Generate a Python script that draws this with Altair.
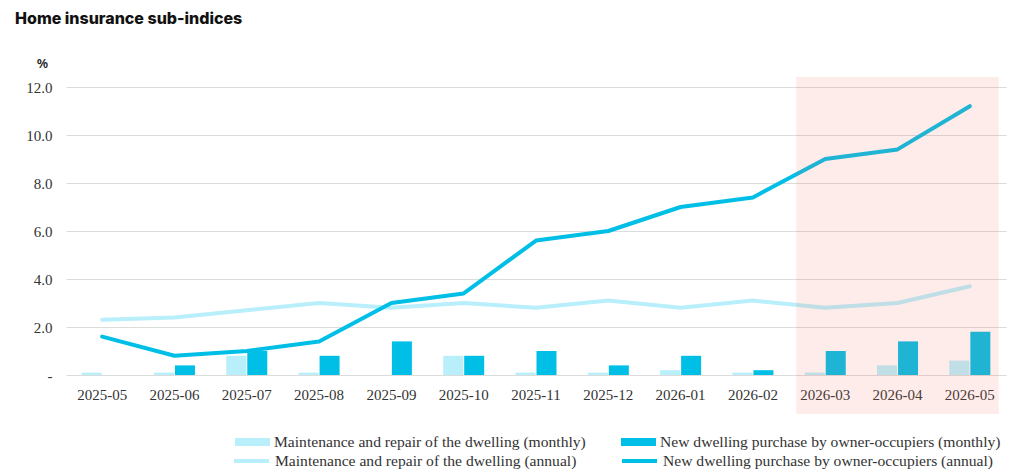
import altair as alt
import pandas as pd

months = ["2025-05", "2025-06", "2025-07", "2025-08", "2025-09", "2025-10", "2025-11",
          "2025-12", "2026-01", "2026-02", "2026-03", "2026-04", "2026-05"]
maint_monthly = [0.1, 0.1, 0.8, 0.1, 0.0, 0.8, 0.1, 0.1, 0.2, 0.1, 0.1, 0.4, 0.6]
new_monthly = [0.0, 0.4, 1.0, 0.8, 1.4, 0.8, 1.0, 0.4, 0.8, 0.2, 1.0, 1.4, 1.8]
maint_annual = [2.3, 2.4, 2.7, 3.0, 2.8, 3.0, 2.8, 3.1, 2.8, 3.1, 2.8, 3.0, 3.7]
new_annual = [1.6, 0.8, 1.0, 1.4, 3.0, 3.4, 5.6, 6.0, 7.0, 7.4, 9.0, 9.4, 11.2]
highlight_start = "2026-03"
highlight_end = "2026-05"
y_ticks = [0, 2, 4, 6, 8, 10, 12]

S_MM = "Maintenance and repair of the dwelling (monthly)"
S_NM = "New dwelling purchase by owner-occupiers (monthly)"
S_MA = "Maintenance and repair of the dwelling (annual)"
S_NA = "New dwelling purchase by owner-occupiers (annual)"

LIGHT = "#b8effb"
DARK = "#00bfe6"
SERIF = "Liberation Serif"

bars_df = pd.DataFrame({
    "month": months * 2,
    "series": [S_MM] * len(months) + [S_NM] * len(months),
    "value": maint_monthly + new_monthly,
})
lines_df = pd.DataFrame({
    "month": months * 2,
    "series": [S_MA] * len(months) + [S_NA] * len(months),
    "value": maint_annual + new_annual,
})
hl_df = pd.DataFrame({"start": [highlight_start], "end": [highlight_end]})

x_scale = alt.Scale(domain=months, paddingInner=0, paddingOuter=0)
y_scale = alt.Scale(domain=[0, 12])

x_enc = alt.X("month:N", scale=x_scale, title=None,
              axis=alt.Axis(labelAngle=0, ticks=False, domain=False, labelPadding=12,
                            grid=False, labelFont=SERIF, labelFontSize=15, labelColor="#333"))
y_enc = alt.Y("value:Q", scale=y_scale,
              axis=alt.Axis(values=y_ticks, title="%", titleAngle=0, titleX=-24, titleY=-24,
                            titleAlign="center", titleBaseline="middle", titleFont="Noto Sans",
                            titleFontSize=13, titleFontWeight=600, titleColor="#222",
                            labelExpr="datum.value == 0 ? '-' : format(datum.value, '.1f')",
                            ticks=False, domain=False, labelPadding=14, gridColor="#dcdcdc",
                            labelFont=SERIF, labelFontSize=15, labelColor="#333"))

bar_legend = alt.Legend(orient="none", legendX=169, legendY=337, columns=2, title=None,
                        symbolType="M-1,-0.23H1V0.23H-1Z", symbolSize=1225, symbolStrokeWidth=0,
                        columnPadding=35, labelOffset=4, labelFont=SERIF, labelFontSize=15.6,
                        labelColor="#333", labelLimit=500, symbolOpacity=1)
line_legend = alt.Legend(orient="none", legendX=166, legendY=354, columns=2, title=None,
                         symbolType="stroke", symbolSize=1225, symbolStrokeWidth=4,
                         columnPadding=37, labelOffset=4, labelFont=SERIF, labelFontSize=15.6,
                         labelColor="#333", labelLimit=500)

bars = alt.Chart(bars_df).mark_bar(size=20).encode(
    x=x_enc,
    xOffset=alt.XOffset("series:N", scale=alt.Scale(domain=[S_MM, S_NM], paddingInner=0.048,
                                                    paddingOuter=0.745)),
    y=y_enc,
    color=alt.Color("series:N", scale=alt.Scale(domain=[S_MM, S_NM], range=[LIGHT, DARK]),
                    legend=bar_legend),
)

stroke_scale = alt.Scale(domain=[S_MA, S_NA], range=[LIGHT, DARK])

line_light = alt.Chart(lines_df).transform_filter(alt.datum.series == S_MA).mark_line(
    strokeWidth=4, strokeCap="round", strokeJoin="round").encode(
    x=alt.X("month:N", scale=x_scale),
    y=alt.Y("value:Q", scale=y_scale),
    stroke=alt.Stroke("series:N", scale=stroke_scale, legend=line_legend),
)
line_dark = alt.Chart(lines_df).transform_filter(alt.datum.series == S_NA).mark_line(
    strokeWidth=4, strokeCap="round", strokeJoin="round").encode(
    x=alt.X("month:N", scale=x_scale),
    y=alt.Y("value:Q", scale=y_scale),
    stroke=alt.Stroke("series:N", scale=stroke_scale, legend=line_legend),
)

highlight = alt.Chart(hl_df).mark_rect(color="#f06c5d", opacity=0.13).encode(
    x=alt.X("start:N", bandPosition=0.1),
    x2=alt.X2("end:N", bandPosition=0.9),
    y=alt.value(-10),
    y2=alt.value(327),
)

chart = alt.layer(bars, line_light, line_dark, highlight).properties(
    width=940, height=288,
    title=alt.TitleParams("Home insurance sub-indices", anchor="start", frame="group",
                          font="Inter", fontSize=16, fontWeight=800, color="#111",
                          dx=-51, offset=30),
    padding={"left": 58, "top": 79, "right": 10, "bottom": 110},
    autosize="none",
).configure_view(stroke=None)

chart.save("out.html", embed_options={"renderer": "svg", "actions": False})
